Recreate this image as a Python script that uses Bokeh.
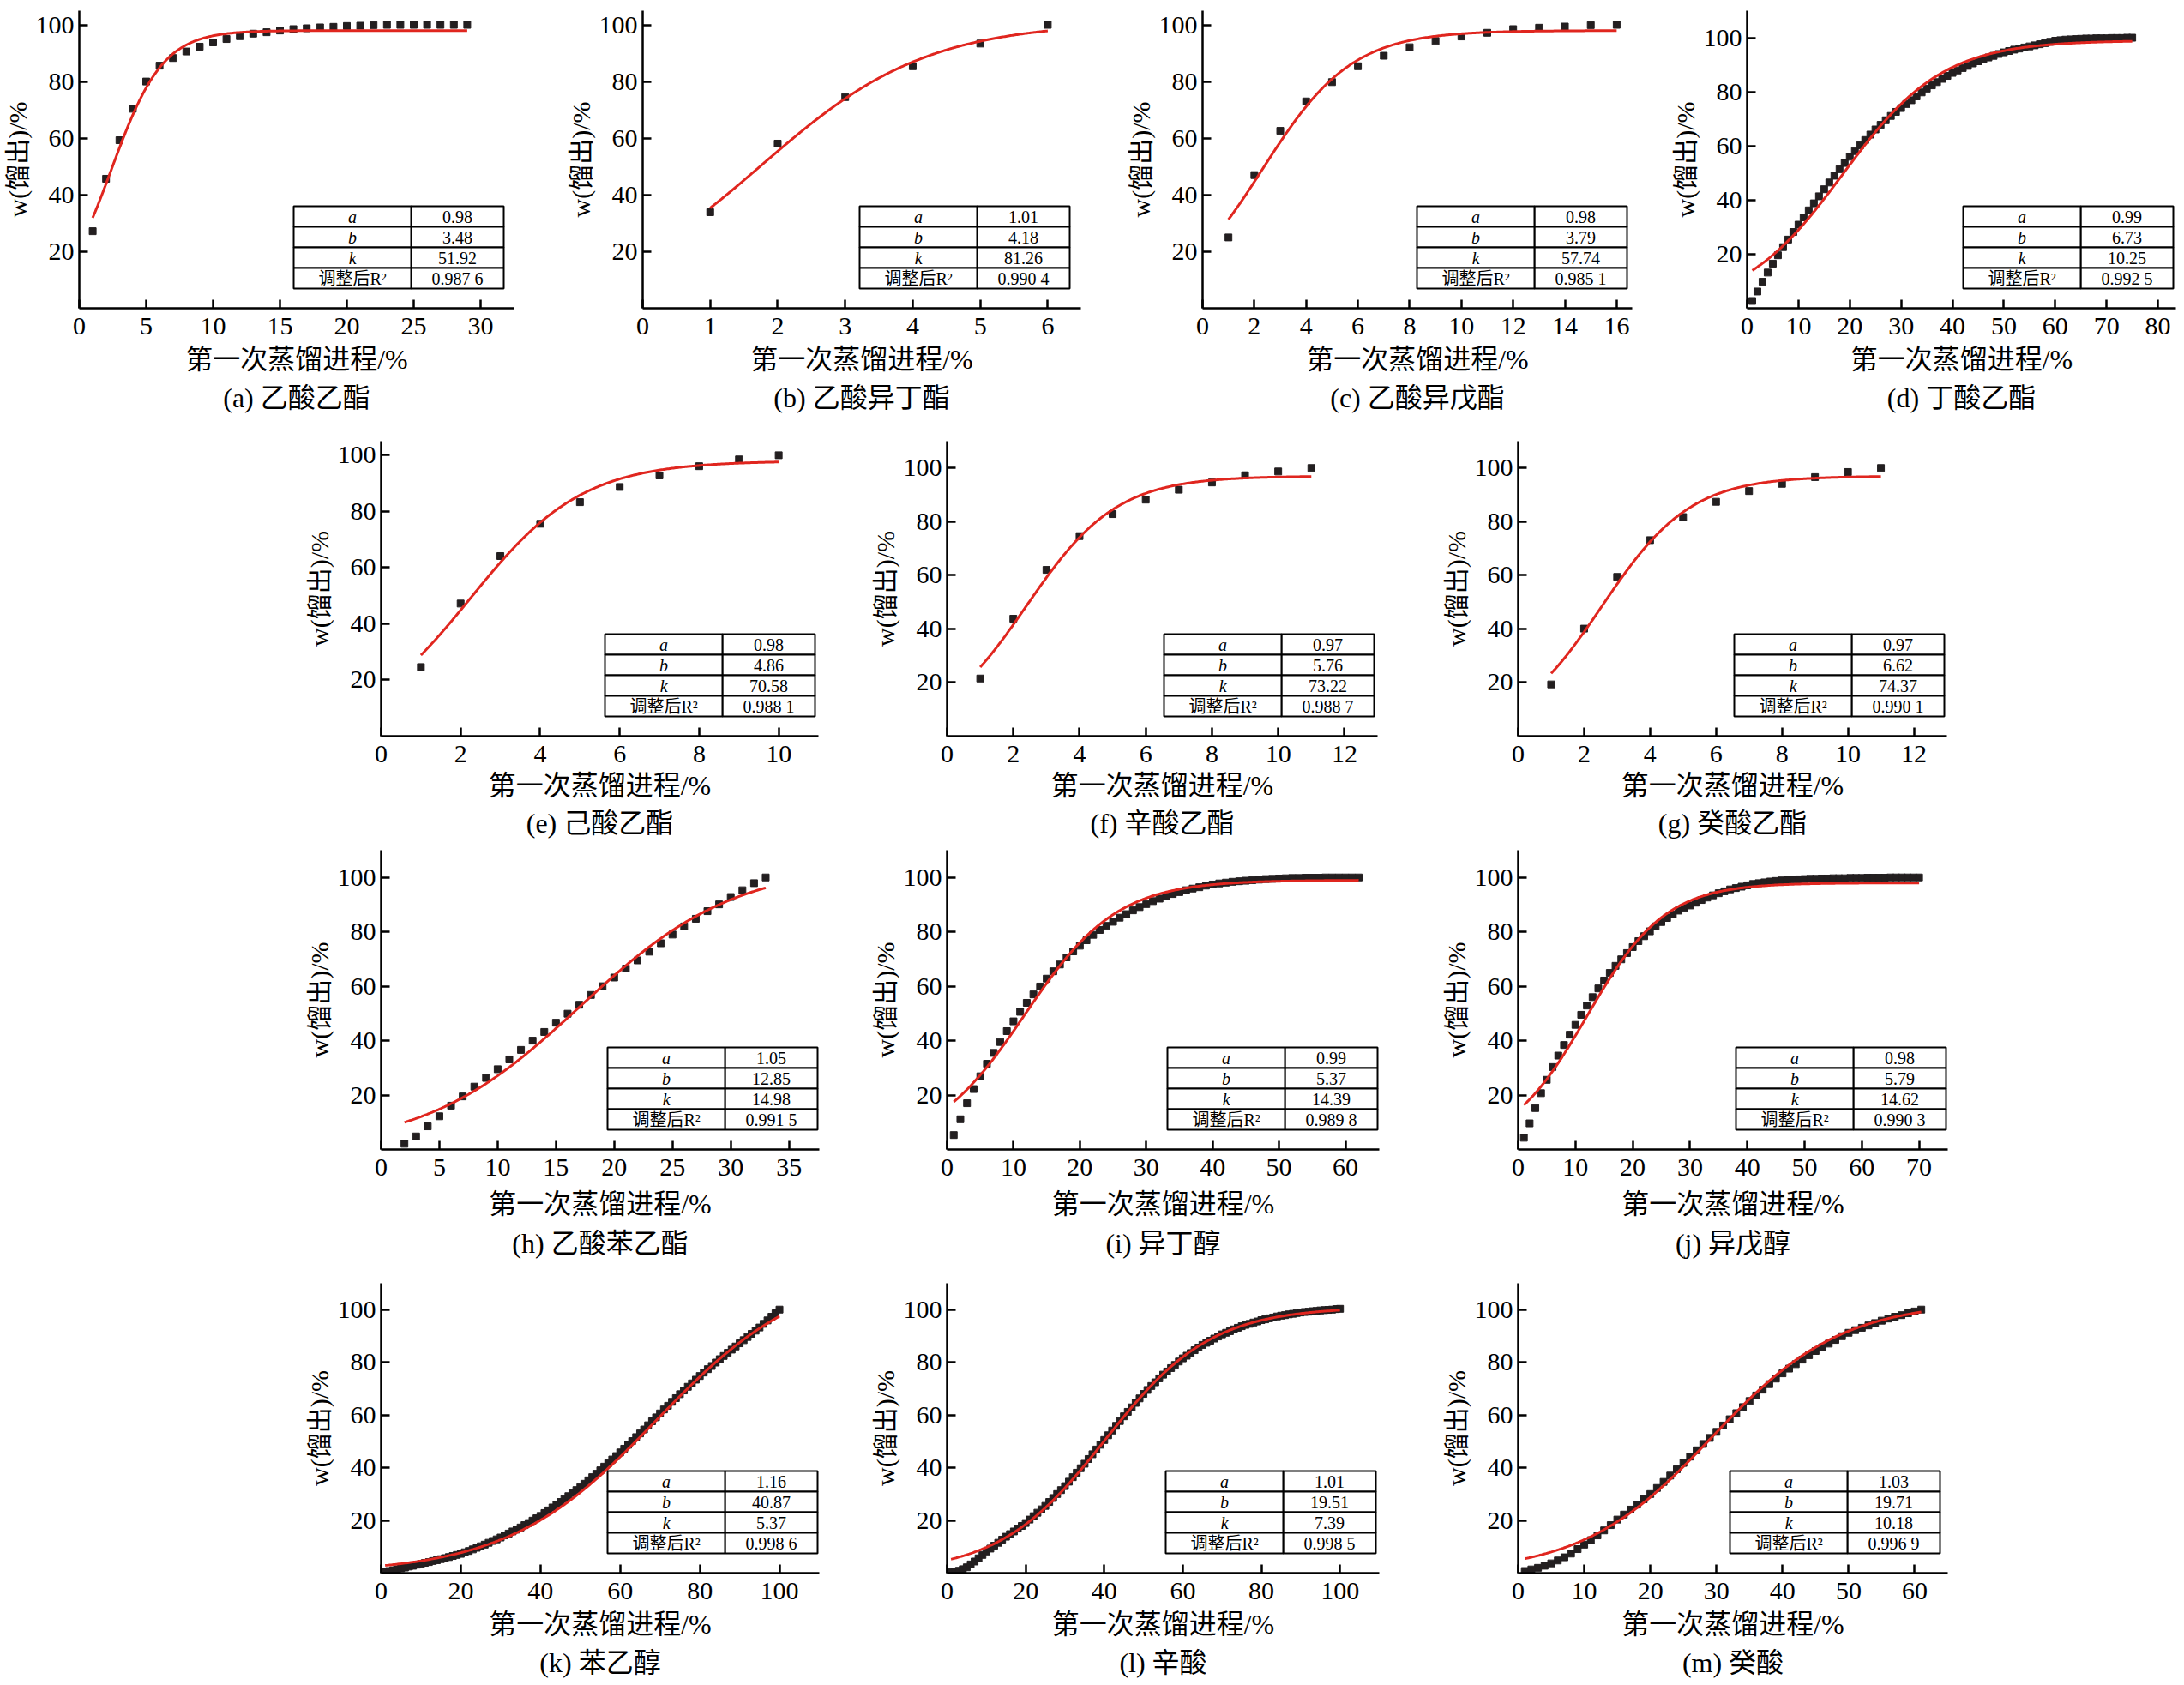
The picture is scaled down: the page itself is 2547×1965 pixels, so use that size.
import numpy as np
from bokeh.plotting import figure
from bokeh.layouts import row, column
from bokeh.models import Range1d, FixedTicker, Title, Spacer
from bokeh.core.properties import value
from bokeh.embed import file_html
from bokeh.resources import INLINE

FONT = "Liberation Serif, Noto Sans CJK SC"

# ---------------- data ----------------
a_x = list(range(1, 30))
a_y = [27.2, 45.7, 59.3, 70.4, 80.0, 85.6, 88.3, 90.6, 92.3, 93.8, 95.0, 96.0, 96.9, 97.4, 98.0,
       98.5, 98.8, 99.1, 99.3, 99.6, 99.7, 99.9, 100, 100, 100, 100, 100, 100, 100]
b_x = [1, 2, 3, 4, 5, 6]
b_y = [33.9, 58.1, 74.5, 85.4, 93.4, 100]
c_x = list(range(1, 17))
c_y = [25.0, 47.0, 62.6, 73.0, 79.8, 85.4, 89.1, 92.1, 94.3, 95.9, 97.2, 98.5, 99.0, 99.4, 99.9, 100]
d_x = list(range(1, 76))
d_y = [2.7, 6.2, 9.8, 13.2, 16.5, 19.6, 22.6, 25.4, 28.2, 30.9,
       33.6, 36.2, 38.8, 41.4, 44.0, 46.5, 49.0, 51.4, 53.7, 56.0,
       58.1, 60.2, 62.2, 64.2, 66.1, 67.8, 69.5, 71.1, 72.6, 74.0,
       75.5, 76.9, 78.3, 79.8, 81.2, 82.4, 83.6, 84.8, 85.9, 87.0,
       87.9, 88.8, 89.6, 90.5, 91.3, 92.0, 92.7, 93.3, 94.0, 94.6,
       95.1, 95.6, 96.0, 96.4, 96.8, 97.2, 97.6, 98.0, 98.5, 98.9,
       99.1, 99.3, 99.4, 99.5, 99.6, 99.7, 99.7, 99.8, 99.8, 99.8,
       99.9, 99.9, 99.9, 100.0, 100.0]
e_x = list(range(1, 11))
e_y = [24.6, 47.2, 64.1, 75.6, 83.3, 88.7, 92.8, 96.1, 98.5, 100]
f_x = list(range(1, 12))
f_y = [21.5, 43.8, 62.0, 74.6, 82.8, 88.2, 91.9, 94.6, 97.3, 98.7, 100]
g_x = list(range(1, 12))
g_y = [19.3, 40.1, 59.4, 73.1, 81.7, 87.4, 91.4, 94.1, 96.6, 98.5, 100]
h_x = list(range(2, 34))
h_y = [2.1, 4.8, 8.5, 12.2, 16.1, 19.5, 23.1, 26.3, 29.5, 33.1, 36.6, 40.0, 43.2, 46.6, 49.9, 53.2,
       56.8, 60.0, 63.2, 66.5, 69.5, 72.7, 75.8, 79.0, 82.0, 84.8, 87.6, 90.1, 92.8, 95.3, 97.9, 100]
i_x = list(range(1, 63))
i_y = [5.3, 11.1, 17.0, 22.2, 26.9, 31.5, 35.5, 39.5, 43.5, 47.1,
       50.6, 53.9, 57.0, 59.9, 62.8, 65.5, 68.0, 70.6, 72.8, 74.9,
       76.9, 78.9, 80.7, 82.2, 83.7, 85.2, 86.5, 87.9, 89.1, 90.2,
       91.3, 92.2, 93.1, 93.9, 94.6, 95.3, 95.9, 96.4, 97.0, 97.4,
       97.8, 98.1, 98.4, 98.6, 98.8, 99.0, 99.2, 99.4, 99.5, 99.6,
       99.7, 99.8, 99.8, 99.9, 99.9, 99.9, 100, 100, 100, 100, 100, 100]
j_x = list(range(1, 71))
j_y = [4.3, 9.6, 15.2, 20.7, 25.6, 30.3, 34.5, 38.4, 42.2, 45.8,
       49.5, 52.9, 56.0, 59.2, 62.1, 64.9, 67.5, 69.9, 72.2, 74.4,
       76.6, 78.4, 80.2, 82.0, 83.6, 85.1, 86.4, 87.8, 88.8, 89.7,
       90.7, 91.7, 92.6, 93.4, 94.2, 94.9, 95.6, 96.1, 96.6, 97.1,
       97.6, 97.9, 98.2, 98.5, 98.7, 98.9, 99.1, 99.2, 99.3, 99.4,
       99.5, 99.5, 99.6, 99.6, 99.7, 99.7, 99.7, 99.8, 99.8, 99.8,
       99.9, 99.9, 99.9, 99.9, 100, 100, 100, 100, 100, 100]
k_x = list(range(1, 101))
k_y = [0.5, 0.8, 1.1, 1.5, 1.8, 2.1, 2.5, 2.8, 3.2, 3.5,
       3.9, 4.2, 4.6, 4.9, 5.3, 5.7, 6.1, 6.5, 6.9, 7.3,
       7.9, 8.4, 9.0, 9.6, 10.2, 10.8, 11.5, 12.2, 12.8, 13.5,
       14.3, 15.0, 15.8, 16.5, 17.3, 18.2, 19.0, 19.9, 20.8, 21.7,
       22.8, 23.8, 24.9, 25.9, 27.0, 28.1, 29.2, 30.4, 31.5, 32.6,
       33.9, 35.2, 36.4, 37.7, 39.0, 40.4, 41.7, 43.1, 44.4, 45.8,
       47.2, 48.7, 50.1, 51.6, 53.0, 54.5, 56.1, 57.6, 59.1, 60.6,
       62.1, 63.5, 65.0, 66.4, 67.9, 69.3, 70.7, 72.0, 73.4, 74.8,
       76.1, 77.4, 78.6, 79.9, 81.2, 82.4, 83.6, 84.8, 86.0, 87.2,
       88.4, 89.6, 90.8, 92.0, 93.2, 94.6, 95.9, 97.3, 98.6, 100.0]
l_x = list(range(1, 101))
l_y = [0.3, 0.6, 0.9, 1.5, 2.2, 3.3, 4.4, 5.6, 6.9, 8.2,
       9.3, 10.4, 11.5, 12.7, 13.8, 14.8, 15.8, 16.9, 17.9, 19.0,
       20.3, 21.6, 22.9, 24.2, 25.5, 27.0, 28.5, 30.0, 31.5, 33.0,
       34.7, 36.4, 38.1, 39.8, 41.5, 43.3, 45.1, 46.9, 48.7, 50.5,
       52.3, 54.1, 55.9, 57.7, 59.5, 61.2, 62.9, 64.6, 66.3, 68.0,
       69.5, 71.0, 72.4, 73.9, 75.3, 76.5, 77.8, 79.0, 80.3, 81.5,
       82.5, 83.5, 84.6, 85.6, 86.6, 87.4, 88.2, 89.0, 89.8, 90.6,
       91.2, 91.8, 92.5, 93.1, 93.7, 94.2, 94.6, 95.1, 95.5, 96.0,
       96.3, 96.7, 97.0, 97.4, 97.7, 97.9, 98.2, 98.4, 98.7, 98.9,
       99.1, 99.2, 99.4, 99.5, 99.7, 99.8, 99.9, 100.0, 100.2, 100.3]
m_x = list(range(1, 62))
m_y = [0.8, 1.4, 2.0, 2.8, 3.7, 4.8, 6.0, 7.4, 9.1, 10.8,
       12.5, 14.3, 16.2, 18.2, 20.3, 22.2, 24.1, 26.0, 28.0, 30.0,
       32.3, 34.6, 37.0, 39.4, 41.8, 44.2, 46.6, 49.0, 51.3, 53.6,
       56.0, 58.4, 60.7, 63.0, 65.3, 67.4, 69.6, 71.7, 73.8, 75.8,
       77.6, 79.3, 81.0, 82.7, 84.3, 85.7, 87.1, 88.5, 89.9, 91.2,
       92.2, 93.1, 94.0, 94.9, 95.8, 96.6, 97.3, 97.9, 98.6, 99.3, 100.0]

# fitted parameters (a, b, k) and adjusted R^2 as printed in the tables
fit_a = [0.98, 1.01, 0.98, 0.99, 0.98, 0.97, 0.97, 1.05, 0.99, 0.98, 1.16, 1.01, 1.03]
fit_b = [3.48, 4.18, 3.79, 6.73, 4.86, 5.76, 6.62, 12.85, 5.37, 5.79, 40.87, 19.51, 19.71]
fit_k = [51.92, 81.26, 57.74, 10.25, 70.58, 73.22, 74.37, 14.98, 14.39, 14.62, 5.37, 7.39, 10.18]
fit_r2 = ["0.987 6", "0.990 4", "0.985 1", "0.992 5", "0.988 1", "0.988 7", "0.990 1",
          "0.991 5", "0.989 8", "0.990 3", "0.998 6", "0.998 5", "0.996 9"]

letters = ["a", "b", "c", "d", "e", "f", "g", "h", "i", "j", "k", "l", "m"]
names = ["乙酸乙酯", "乙酸异丁酯", "乙酸异戊酯", "丁酸乙酯", "己酸乙酯", "辛酸乙酯", "癸酸乙酯",
         "乙酸苯乙酯", "异丁醇", "异戊醇", "苯乙醇", "辛酸", "癸酸"]
xs_all = [a_x, b_x, c_x, d_x, e_x, f_x, g_x, h_x, i_x, j_x, k_x, l_x, m_x]
ys_all = [a_y, b_y, c_y, d_y, e_y, f_y, g_y, h_y, i_y, j_y, k_y, l_y, m_y]
x_max = [32.5, 6.49, 16.6, 83.5, 11.0, 13.0, 13.0, 37.6, 65.1, 75.0, 110, 110, 65]
y_max = [105, 105, 105, 110, 105, 110, 110, 110, 110, 110, 110, 110, 110]
x_ticks = [[0, 5, 10, 15, 20, 25, 30], [0, 1, 2, 3, 4, 5, 6], [0, 2, 4, 6, 8, 10, 12, 14, 16],
           [0, 10, 20, 30, 40, 50, 60, 70, 80], [0, 2, 4, 6, 8, 10], [0, 2, 4, 6, 8, 10, 12],
           [0, 2, 4, 6, 8, 10, 12], [0, 5, 10, 15, 20, 25, 30, 35], [0, 10, 20, 30, 40, 50, 60],
           [0, 10, 20, 30, 40, 50, 60, 70], [0, 20, 40, 60, 80, 100], [0, 20, 40, 60, 80, 100],
           [0, 10, 20, 30, 40, 50, 60]]
y_ticks = [20, 40, 60, 80, 100]

# ---------------- layout (pixels) ----------------
LB = 90
frame_w = [507, 511, 501, 500, 510, 502, 500, 511, 504, 501, 511, 504, 501]
right_b = [58, 50, 42, 2, 58, 72, 10, 57, 70, 10, 57, 70, 10]
row_fh = [347, 344, 349, 338]
row_tb = [12, 4, 4, 4]
row_bb = [151, 129, 152, 112]
row_xls = [8, 6, 12, 8]
row_tst = [8, 7, 10, 8]
panel_row = [0, 0, 0, 0, 1, 1, 1, 2, 2, 2, 3, 3, 3]
tab_dr = [12, 13, 6, 3, 4, 4, 3, 2, 2, 2, 2, 4, 9]
TW, TH, DB, SPLIT = 245, 96, 23, 0.56


def make_panel(i):
    r = panel_row[i]
    fw, fh = frame_w[i], row_fh[r]
    xm, ym = x_max[i], y_max[i]
    p = figure(frame_width=fw, frame_height=fh, x_range=Range1d(0, xm), y_range=Range1d(0, ym),
               output_backend="svg", toolbar_location=None,
               min_border_left=LB, min_border_right=right_b[i], min_border_top=row_tb[r],
               min_border_bottom=row_bb[r])
    p.outline_line_color = None
    p.grid.visible = False
    for ax in (p.xaxis[0], p.yaxis[0]):
        ax.axis_line_width = 2.5
        ax.axis_line_color = "black"
        ax.major_tick_in = 10
        ax.major_tick_out = 0
        ax.major_tick_line_width = 2.5
        ax.major_tick_line_color = "black"
        ax.minor_tick_line_color = None
        ax.major_label_text_font = FONT
        ax.major_label_text_font_size = "30px"
        ax.major_label_text_color = "black"
        ax.axis_label_text_font = FONT
        ax.axis_label_text_font_style = "normal"
        ax.axis_label_text_color = "black"
    p.xaxis.axis_label_text_font_size = "32px"
    p.yaxis.axis_label_text_font_size = "30px"
    p.xaxis.ticker = FixedTicker(ticks=x_ticks[i])
    p.yaxis.ticker = FixedTicker(ticks=y_ticks)
    p.xaxis.axis_label = "第一次蒸馏进程/%"
    p.yaxis.axis_label = "w(馏出)/%"
    p.xaxis.major_label_standoff = 11
    p.xaxis.axis_label_standoff = row_xls[r]
    p.yaxis.major_label_standoff = 6
    p.yaxis.axis_label_standoff = 2

    xs, ys = xs_all[i], ys_all[i]
    p.scatter(xs, ys, marker="square", size=8, color="#231f20")
    cx = np.linspace(xs[0], xs[-1], 300)
    cy = 100 * fit_a[i] / (1 + fit_b[i] * np.exp(-fit_k[i] * cx / 100))
    p.line(cx, cy, line_color="#e0261f", line_width=3)

    # parameter table
    sx, sy = xm / fw, ym / fh
    right_px = fw - tab_dr[i]
    left_px = right_px - TW
    split_px = left_px + TW * SPLIT
    rh = TH / 4
    L, R, B, T = [], [], [], []
    for rr in range(4):
        bot = DB + (3 - rr) * rh
        for (l, rgt) in ((left_px, split_px), (split_px, right_px)):
            L.append(l * sx); R.append(rgt * sx)
            B.append(bot * sy); T.append((bot + rh) * sy)
    p.quad(left=L, right=R, bottom=B, top=T, fill_color="white", line_color="black", line_width=2)
    ycen = [(DB + (3 - rr) * rh + rh / 2) * sy for rr in range(4)]
    xl = (left_px + split_px) / 2 * sx
    xr = (split_px + right_px) / 2 * sx
    p.text(x=[xl] * 3, y=ycen[:3], text=["a", "b", "k"], text_font=value(FONT),
           text_font_size=value("20px"), text_font_style=value("italic"),
           text_align="center", text_baseline="middle", text_color="black")
    p.text(x=[xl], y=[ycen[3]], text=["调整后R²"], text_font=value(FONT),
           text_font_size=value("20px"), text_align="center", text_baseline="middle",
           text_color="black")
    vals = ["%.2f" % fit_a[i], "%.2f" % fit_b[i], "%.2f" % fit_k[i], fit_r2[i]]
    p.text(x=[xr] * 4, y=ycen, text=vals, text_font=value(FONT),
           text_font_size=value("20px"), text_align="center", text_baseline="middle",
           text_color="black")

    p.add_layout(Title(text="(%s) %s" % (letters[i], names[i]), align="center", text_font=FONT,
                       text_font_size="32px", text_font_style="normal", text_color="black",
                       standoff=row_tst[r]), "below")
    return p


panels = [make_panel(i) for i in range(13)]
row1 = row(panels[0], panels[1], panels[2], panels[3])
row2 = row(Spacer(width=352, height=10), panels[4], panels[5], panels[6])
row3 = row(Spacer(width=352, height=10), panels[7], panels[8], panels[9])
row4 = row(Spacer(width=352, height=10), panels[10], panels[11], panels[12])
layout = column(row1, row2, row3, row4)

open("out.html", "w").write(file_html(layout, INLINE))
